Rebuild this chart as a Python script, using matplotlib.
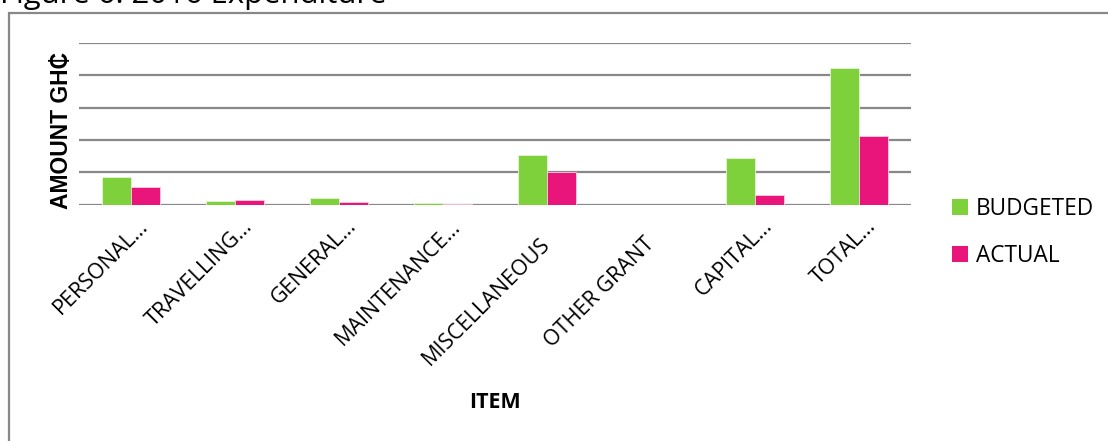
import matplotlib
matplotlib.use("Agg")
import matplotlib.pyplot as plt
import matplotlib.patches as mpatches
from matplotlib.transforms import ScaledTranslation
import numpy as np

categories = ["PERSONAL…", "TRAVELLING…", "GENERAL…", "MAINTENANCE…",
              "MISCELLANEOUS", "OTHER GRANT", "CAPITAL…", "TOTAL…"]
budgeted = [0.85, 0.12, 0.22, 0.05, 1.53, 0.0, 1.45, 4.23]
actual = [0.55, 0.14, 0.08, 0.02, 1.01, 0.0, 0.30, 2.12]
series_names = ["BUDGETED", "ACTUAL"]
title = "Figure 6: 2016 Expenditure"

GREEN = "#7FD13B"
PINK = "#EA157A"
GRID = "#888888"
FONT = ["Open Sans", "DejaVu Sans"]

W, H = 1108, 441
fig = plt.figure(figsize=(W / 100, H / 100), dpi=100)
ax = fig.add_axes([79 / W, 1 - 204.7 / H, (911 - 79) / W, (204.7 - 43) / H])

x = np.arange(len(categories))
bw = 0.282
ax.bar(x - bw / 2, budgeted, width=bw, color=GREEN, edgecolor="#E6F5D8",
       linewidth=0.6, label=series_names[0], zorder=3)
ax.bar(x + bw / 2, actual, width=bw, color=PINK, edgecolor="#F9D0E3",
       linewidth=0.6, label=series_names[1], zorder=3)

ax.set_xlim(-0.5, len(categories) - 0.5)
ax.set_ylim(0, 5)
ax.set_yticks(np.arange(0, 6, 1))
ax.set_yticklabels([])
ax.yaxis.grid(True, color=GRID, linewidth=1.6, zorder=0)
ax.set_axisbelow(True)
for s in ax.spines.values():
    s.set_visible(False)
ax.tick_params(axis="y", length=0)
ax.tick_params(axis="x", length=0, pad=29 * 0.72)

ax.set_xticks(x)
ax.set_xticklabels(categories, rotation=45, ha="right", va="top",
                   rotation_mode="anchor", fontsize=15.5, family=FONT)
for lbl in ax.get_xticklabels():
    if lbl.get_text().endswith("…"):
        off = ScaledTranslation(7 / 100, 18 / 100, fig.dpi_scale_trans)
    else:
        off = ScaledTranslation(-7 / 100, 0, fig.dpi_scale_trans)
    lbl.set_transform(lbl.get_transform() + off)

fig.text(61 / W, 1 - 130 / H, "AMOUNT GH\u20B5", rotation=90, ha="center",
         va="center", fontsize=16.5, fontweight="bold",
         family=["Liberation Sans", "DejaVu Sans"])
fig.text(495 / W, 1 - 402 / H, "ITEM", ha="center", va="center",
         fontsize=15.5, fontweight="bold", family=FONT)

fig.text(0, 1 - 3 / H, title, ha="left", va="baseline", fontsize=22.3,
         family=FONT)

border = mpatches.Rectangle((9 / W, -0.2), 2.0, (H - 13) / H + 0.2,
                            transform=fig.transFigure, fill=False,
                            edgecolor=GRID, linewidth=1.6)
fig.patches.append(border)

handles, labels = ax.get_legend_handles_labels()
leg = fig.legend(handles, labels, loc="upper left",
                 bbox_to_anchor=(952 / W, 1 - 197 / H), frameon=False,
                 prop={"family": FONT, "size": 16.3}, handlelength=0.7,
                 handleheight=0.7, handletextpad=0.35, labelspacing=1.0,
                 borderaxespad=0, borderpad=0)
for h in leg.legend_handles:
    h.set_edgecolor("none")

fig.savefig("out.png", dpi=100, facecolor="white")
